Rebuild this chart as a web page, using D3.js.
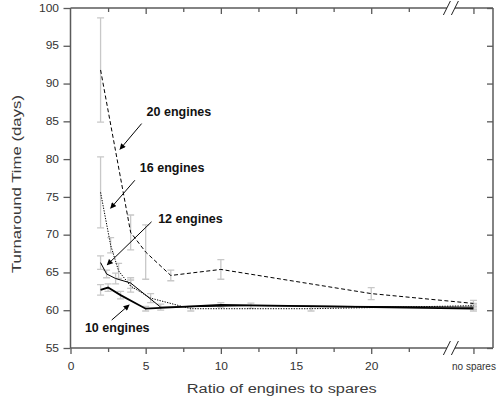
<!DOCTYPE html>
<html>
<head>
<script src="https://d3js.org/d3.v7.min.js"></script>
<style>
  body { margin: 0; background: #fff; }
  text { font-family: "Liberation Sans", Arial, sans-serif; }
</style>
</head>
<body>
<div id="chart"></div>
<script>
// "no spares" is drawn after an axis break, at this x position
var NS = 26.8;
var breakAt = 25.3;

// data: ratio of engines to spares vs turnaround time (days)
var ratio20 = [2, 4, 5, 6.67, 10, 20, NS];
var turn20  = [91.8, 70.3, 67.7, 64.6, 65.4, 62.2, 60.9];
var err20   = [6.9, 2.3, 3.6, 0.7, 1.3, 0.8, 0.4];

var ratio16 = [2, 2.67, 3.2, 4, 5.33, 8, 16, NS];
var turn16  = [75.6, 68.6, 65.2, 63.2, 61.6, 60.2, 60.2, 60.6];
var err16   = [4.7, 1.0, 1.0, 0.8, 0.6, 0.3, 0.3, 0.3];

var ratio12 = [2, 2.4, 3, 4, 6, 12, NS];
var turn12  = [66.3, 64.8, 64.2, 63.6, 60.4, 60.6, 60.4];
var err12   = [0.9, 0.5, 0.7, 0.7, 0.4, 0.35, 0.3];

var ratio10 = [2, 2.5, 3.33, 5, 10, NS];
var turn10  = [62.7, 63.0, 62.0, 60.2, 60.7, 60.2];
var err10   = [0.7, 0.5, 0.5, 0.3, 0.3, 0.3];

var xMajor = [0, 5, 10, 15, 20];
var xMinor = [2.5, 7.5, 12.5, 17.5, 22.5];
var yTicks = [55, 60, 65, 70, 75, 80, 85, 90, 95, 100];

// annotation labels and arrows (data units)
var labelText = ["20 engines", "16 engines", "12 engines", "10 engines"];
var labelX    = [5.06, 4.61, 5.83, 0.96];
var labelY    = [85.7, 78.3, 71.55, 57.1];
var arrowFrom = [[4.73, 84.7], [4.28, 77.2], [5.39, 71.7], [2.74, 58.7]];
var arrowTo   = [[3.29, 81.3], [2.67, 73.5], [2.44, 66.0], [3.9, 60.7]];

var W = 498, H = 404;
var svg = d3.select("#chart").append("svg")
    .attr("width", W).attr("height", H);

var x = d3.scaleLinear().domain([0, 28.1]).range([70.5, 493]);
var y = d3.scaleLinear().domain([55, 100]).range([348, 8]);

var axisCol = "#5a5a5a", textCol = "#333";

// arrow head
svg.append("defs").append("marker")
    .attr("id", "head")
    .attr("viewBox", "0 0 10 10")
    .attr("refX", 9).attr("refY", 5)
    .attr("markerWidth", 7).attr("markerHeight", 6)
    .attr("markerUnits", "userSpaceOnUse")
    .attr("orient", "auto")
  .append("path")
    .attr("d", "M0,0L10,5L0,10z")
    .attr("fill", "#000");

// axes
function styleAxis(g) {
    g.select(".domain").remove();
    g.selectAll("line").attr("stroke", axisCol).attr("stroke-width", 1.3);
    g.selectAll("text").attr("fill", textCol).attr("font-size", "10px");
}

var bottomAx = svg.append("g").attr("transform", "translate(0," + y(55) + ")");
bottomAx.append("g").attr("class", "major")
    .call(d3.axisBottom(x).tickValues(xMajor).tickSize(6).tickPadding(9)).call(styleAxis);
bottomAx.append("g").call(d3.axisBottom(x).tickValues(xMinor).tickSize(4).tickFormat("")).call(styleAxis);
bottomAx.append("g").call(d3.axisBottom(x).tickValues([NS]).tickSize(6).tickPadding(9)
    .tickFormat(function() { return "no spares"; })).call(styleAxis);
bottomAx.select(".major").selectAll("text").attr("transform", "scale(1.2,1)");

var topAx = svg.append("g").attr("transform", "translate(0," + y(100) + ")");
topAx.append("g").call(d3.axisTop(x).tickValues(xMajor.slice(1).concat([NS])).tickSizeInner(-6).tickFormat("")).call(styleAxis);
topAx.append("g").call(d3.axisTop(x).tickValues(xMinor).tickSizeInner(-4).tickFormat("")).call(styleAxis);

var leftAx = svg.append("g").attr("transform", "translate(" + x(0) + ",0)");
leftAx.call(d3.axisLeft(y).tickValues(yTicks).tickSize(7)).call(styleAxis);
leftAx.selectAll("text").attr("x", 0).attr("transform", "translate(-11.5,0) scale(1.2,1)");

var rightAx = svg.append("g").attr("transform", "translate(" + x(28.1) + ",0)");
rightAx.call(d3.axisRight(y).tickValues(yTicks).tickSizeInner(-6).tickFormat("")).call(styleAxis);

// frame lines, broken at the axis break
var gap = 4;
[55, 100].forEach(function(v) {
    svg.append("line").attr("x1", x(0)).attr("x2", x(breakAt) - gap)
        .attr("y1", y(v)).attr("y2", y(v))
        .attr("stroke", axisCol).attr("stroke-width", 1.5);
    svg.append("line").attr("x1", x(breakAt) + gap).attr("x2", x(28.1))
        .attr("y1", y(v)).attr("y2", y(v))
        .attr("stroke", axisCol).attr("stroke-width", 1.5);
    [-4, 4].forEach(function(o) {
        var cx = x(breakAt) + o, cy = y(v);
        svg.append("line")
            .attr("x1", cx - 3.5).attr("y1", cy + 7)
            .attr("x2", cx + 3.5).attr("y2", cy - 7)
            .attr("stroke", "#222").attr("stroke-width", 1);
    });
});
svg.append("line").attr("x1", x(0)).attr("x2", x(0)).attr("y1", y(100)).attr("y2", y(55))
    .attr("stroke", axisCol).attr("stroke-width", 1.5);
svg.append("line").attr("x1", x(28.1)).attr("x2", x(28.1)).attr("y1", y(100)).attr("y2", y(55))
    .attr("stroke", axisCol).attr("stroke-width", 1.5);

// axis titles
svg.append("text")
    .attr("x", (x(0) + x(28.1)) / 2).attr("y", 392.5)
    .attr("text-anchor", "middle")
    .attr("font-size", "12px").attr("fill", "#3a3a3a")
    .attr("textLength", 190).attr("lengthAdjust", "spacingAndGlyphs")
    .text("Ratio of engines to spares");

svg.append("text")
    .attr("transform", "translate(21," + ((y(100) + y(55)) / 2 + 6) + ") rotate(-90)")
    .attr("text-anchor", "middle")
    .attr("font-size", "12px").attr("fill", "#3a3a3a")
    .attr("textLength", 178).attr("lengthAdjust", "spacingAndGlyphs")
    .text("Turnaround Time (days)");

// series
var series = [
    {xs: ratio20, ys: turn20, es: err20, dash: "4,2.5", w: 1},
    {xs: ratio16, ys: turn16, es: err16, dash: "1.3,1.3", w: 1},
    {xs: ratio12, ys: turn12, es: err12, dash: null, w: 1},
    {xs: ratio10, ys: turn10, es: err10, dash: null, w: 1.8}
];

var line = d3.line()
    .x(function(d) { return x(d.x); })
    .y(function(d) { return y(d.y); });

series.forEach(function(s) {
    var pts = s.xs.map(function(v, i) { return {x: v, y: s.ys[i], e: s.es[i]}; });
    svg.append("g").selectAll("path")
        .data(pts)
        .enter()
        .append("path")
            .attr("d", function(d) {
                var px = x(d.x), lo = y(d.y - d.e), hi = y(d.y + d.e);
                return "M" + px + "," + lo + "V" + hi +
                       "M" + (px - 3.5) + "," + lo + "h7" +
                       "M" + (px - 3.5) + "," + hi + "h7";
            })
            .attr("fill", "none")
            .attr("stroke", "#c8c8c8")
            .attr("stroke-width", 1.3);
});

series.forEach(function(s) {
    var pts = s.xs.map(function(v, i) { return {x: v, y: s.ys[i]}; });
    svg.append("path")
        .datum(pts)
        .attr("d", line)
        .attr("fill", "none")
        .attr("stroke", "#000")
        .attr("stroke-width", s.w)
        .attr("stroke-dasharray", s.dash);
});

// annotations
svg.selectAll("text.lab")
    .data(labelText)
    .enter()
    .append("text")
        .attr("class", "lab")
        .attr("x", function(d, i) { return x(labelX[i]); })
        .attr("y", function(d, i) { return y(labelY[i]); })
        .attr("font-size", "12.5px")
        .attr("font-weight", "bold")
        .attr("fill", "#111")
        .text(function(d) { return d; });

svg.selectAll("line.arrow")
    .data(arrowFrom)
    .enter()
    .append("line")
        .attr("class", "arrow")
        .attr("x1", function(d) { return x(d[0]); })
        .attr("y1", function(d) { return y(d[1]); })
        .attr("x2", function(d, i) { return x(arrowTo[i][0]); })
        .attr("y2", function(d, i) { return y(arrowTo[i][1]); })
        .attr("stroke", "#000")
        .attr("stroke-width", 1)
        .attr("marker-end", "url(#head)");
</script>
</body>
</html>
